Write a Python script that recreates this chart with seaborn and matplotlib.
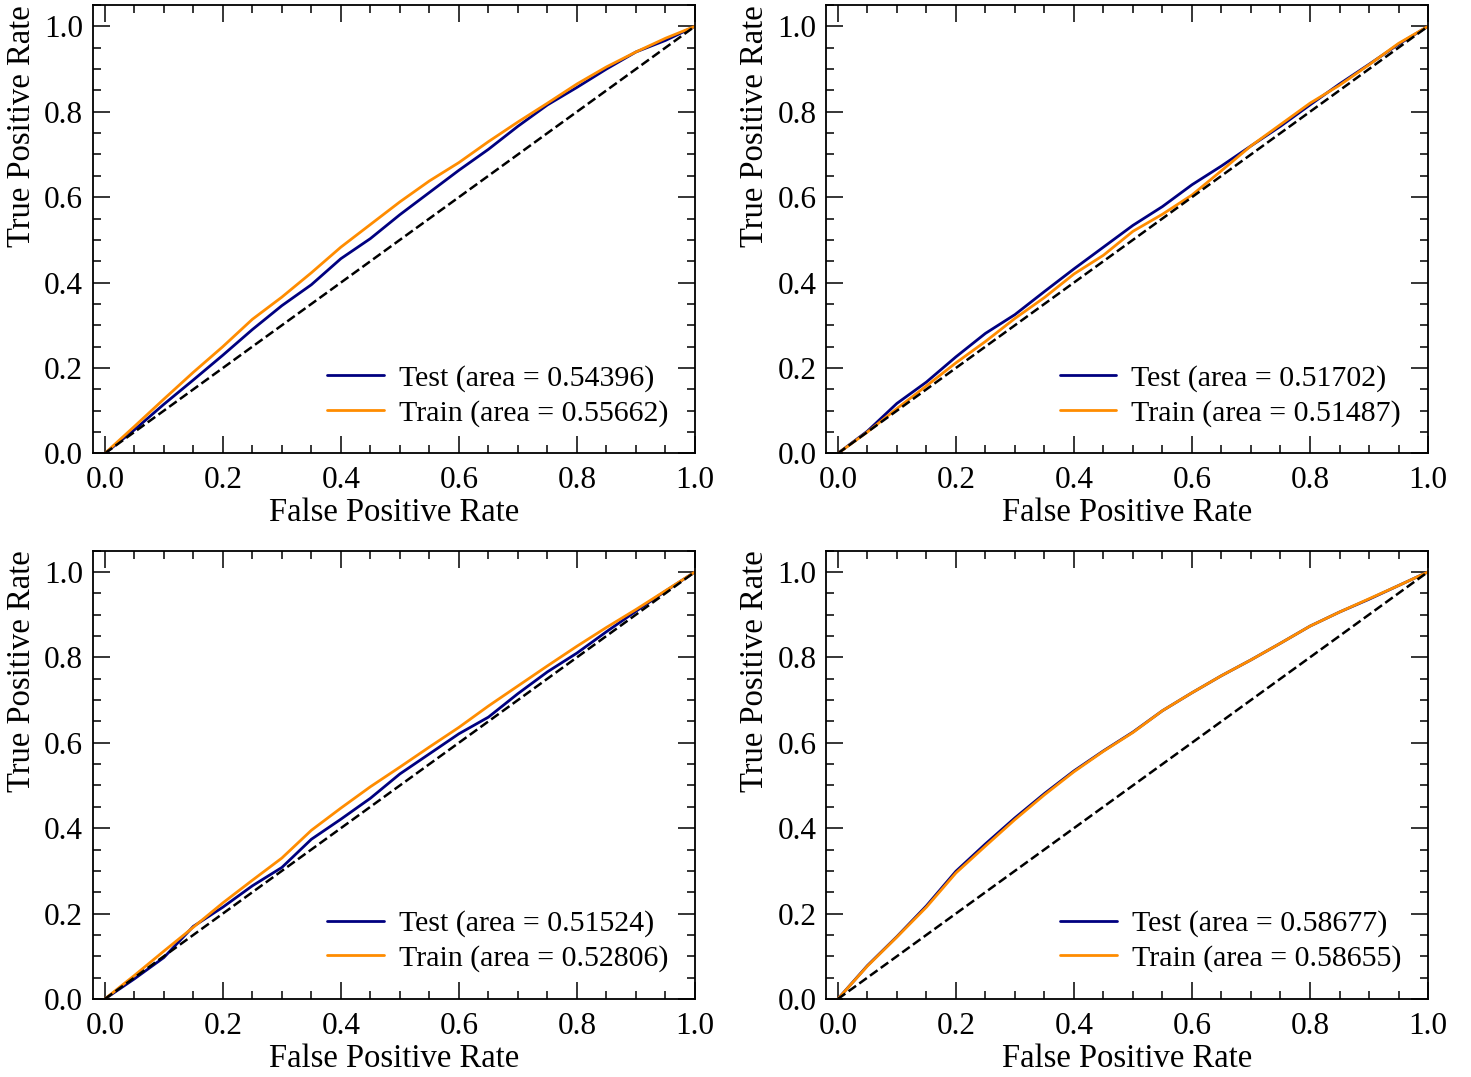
import seaborn as sns
import matplotlib.pyplot as plt
from matplotlib.ticker import MultipleLocator

# FPR grid
fpr = [0.0, 0.05, 0.1, 0.15, 0.2, 0.25, 0.3, 0.35, 0.4, 0.45, 0.5,
       0.55, 0.6, 0.65, 0.7, 0.75, 0.8, 0.85, 0.9, 0.95, 1.0]

# panel 1 (top left)
tpr_test_1 = [0.0, 0.055, 0.115, 0.172, 0.23, 0.29, 0.346, 0.395, 0.456, 0.503, 0.559,
              0.611, 0.663, 0.712, 0.766, 0.816, 0.857, 0.9, 0.94, 0.967, 1.0]
tpr_train_1 = [0.0, 0.063, 0.127, 0.19, 0.25, 0.314, 0.366, 0.423, 0.483, 0.536, 0.589,
               0.638, 0.681, 0.73, 0.776, 0.82, 0.865, 0.905, 0.94, 0.972, 1.0]
# panel 2 (top right)
tpr_test_2 = [0.0, 0.052, 0.117, 0.167, 0.226, 0.281, 0.325, 0.379, 0.432, 0.483, 0.534,
              0.578, 0.629, 0.673, 0.72, 0.766, 0.816, 0.865, 0.911, 0.958, 1.0]
tpr_train_2 = [0.0, 0.05, 0.105, 0.158, 0.212, 0.262, 0.316, 0.365, 0.42, 0.464, 0.52,
               0.56, 0.605, 0.662, 0.72, 0.77, 0.82, 0.862, 0.91, 0.96, 1.0]
# panel 3 (bottom left)
tpr_test_3 = [0.0, 0.047, 0.097, 0.17, 0.215, 0.265, 0.308, 0.374, 0.421, 0.47, 0.527,
              0.574, 0.621, 0.66, 0.715, 0.766, 0.81, 0.86, 0.908, 0.955, 1.0]
tpr_train_3 = [0.0, 0.055, 0.112, 0.168, 0.225, 0.278, 0.33, 0.395, 0.447, 0.497, 0.543,
               0.59, 0.636, 0.686, 0.733, 0.78, 0.826, 0.87, 0.912, 0.956, 1.0]
# panel 4 (bottom right)
tpr_test_4 = [0.0, 0.078, 0.146, 0.218, 0.299, 0.363, 0.424, 0.481, 0.534, 0.581, 0.625,
              0.675, 0.717, 0.757, 0.794, 0.833, 0.873, 0.906, 0.936, 0.968, 1.0]
tpr_train_4 = [0.0, 0.077, 0.145, 0.215, 0.295, 0.358, 0.42, 0.478, 0.532, 0.58, 0.624,
               0.675, 0.717, 0.757, 0.794, 0.833, 0.873, 0.906, 0.937, 0.968, 1.0]

auc_test = [0.54396, 0.51702, 0.51524, 0.58677]
auc_train = [0.55662, 0.51487, 0.52806, 0.58655]

tests = [tpr_test_1, tpr_test_2, tpr_test_3, tpr_test_4]
trains = [tpr_train_1, tpr_train_2, tpr_train_3, tpr_train_4]

sns.set_style("ticks")
plt.rcParams['font.family'] = ['Liberation Serif', 'DejaVu Serif']
for k in ['text.color', 'axes.labelcolor', 'xtick.color', 'ytick.color', 'axes.edgecolor']:
    plt.rcParams[k] = 'black'

fig, axes = plt.subplots(2, 2, figsize=(14.71, 10.77), dpi=100)
fig.subplots_adjust(left=0.0632, right=0.9708, top=0.9954, bottom=0.0724,
                    wspace=0.2176, hspace=0.2165)

for i, ax in enumerate(axes.flat):
    sns.lineplot(x=fpr, y=tests[i], ax=ax, color="navy", lw=2,
                 label="Test (area = %0.5f)" % auc_test[i])
    sns.lineplot(x=fpr, y=trains[i], ax=ax, color="darkorange", lw=2,
                 label="Train (area = %0.5f)" % auc_train[i])
    ax.plot([0, 1], [0, 1], color="black", lw=1.8, linestyle="--")
    ax.set_xlim([-0.02, 1.0])
    ax.set_ylim([0.0, 1.05])
    ax.set_xlabel("False Positive Rate", fontsize=23.5, labelpad=2)
    ax.set_ylabel("True Positive Rate", fontsize=23.5, labelpad=5, loc="top")
    ax.xaxis.set_major_locator(MultipleLocator(0.2))
    ax.yaxis.set_major_locator(MultipleLocator(0.2))
    ax.xaxis.set_minor_locator(MultipleLocator(0.05))
    ax.yaxis.set_minor_locator(MultipleLocator(0.05))
    ax.tick_params(which="both", direction="in", top=True, right=True,
                   width=1.1, labelsize=22.5)
    ax.tick_params(which="major", length=12)
    ax.tick_params(axis="x", which="major", pad=9)
    ax.tick_params(axis="y", which="major", pad=7)
    ax.tick_params(which="minor", length=6)
    for s in ax.spines.values():
        s.set_linewidth(1.3)
    ax.legend(loc="lower right", frameon=False, fontsize=21.5,
              handletextpad=0.5, handlelength=1.9, labelspacing=0.25)

plt.savefig("out.png", dpi=100)
